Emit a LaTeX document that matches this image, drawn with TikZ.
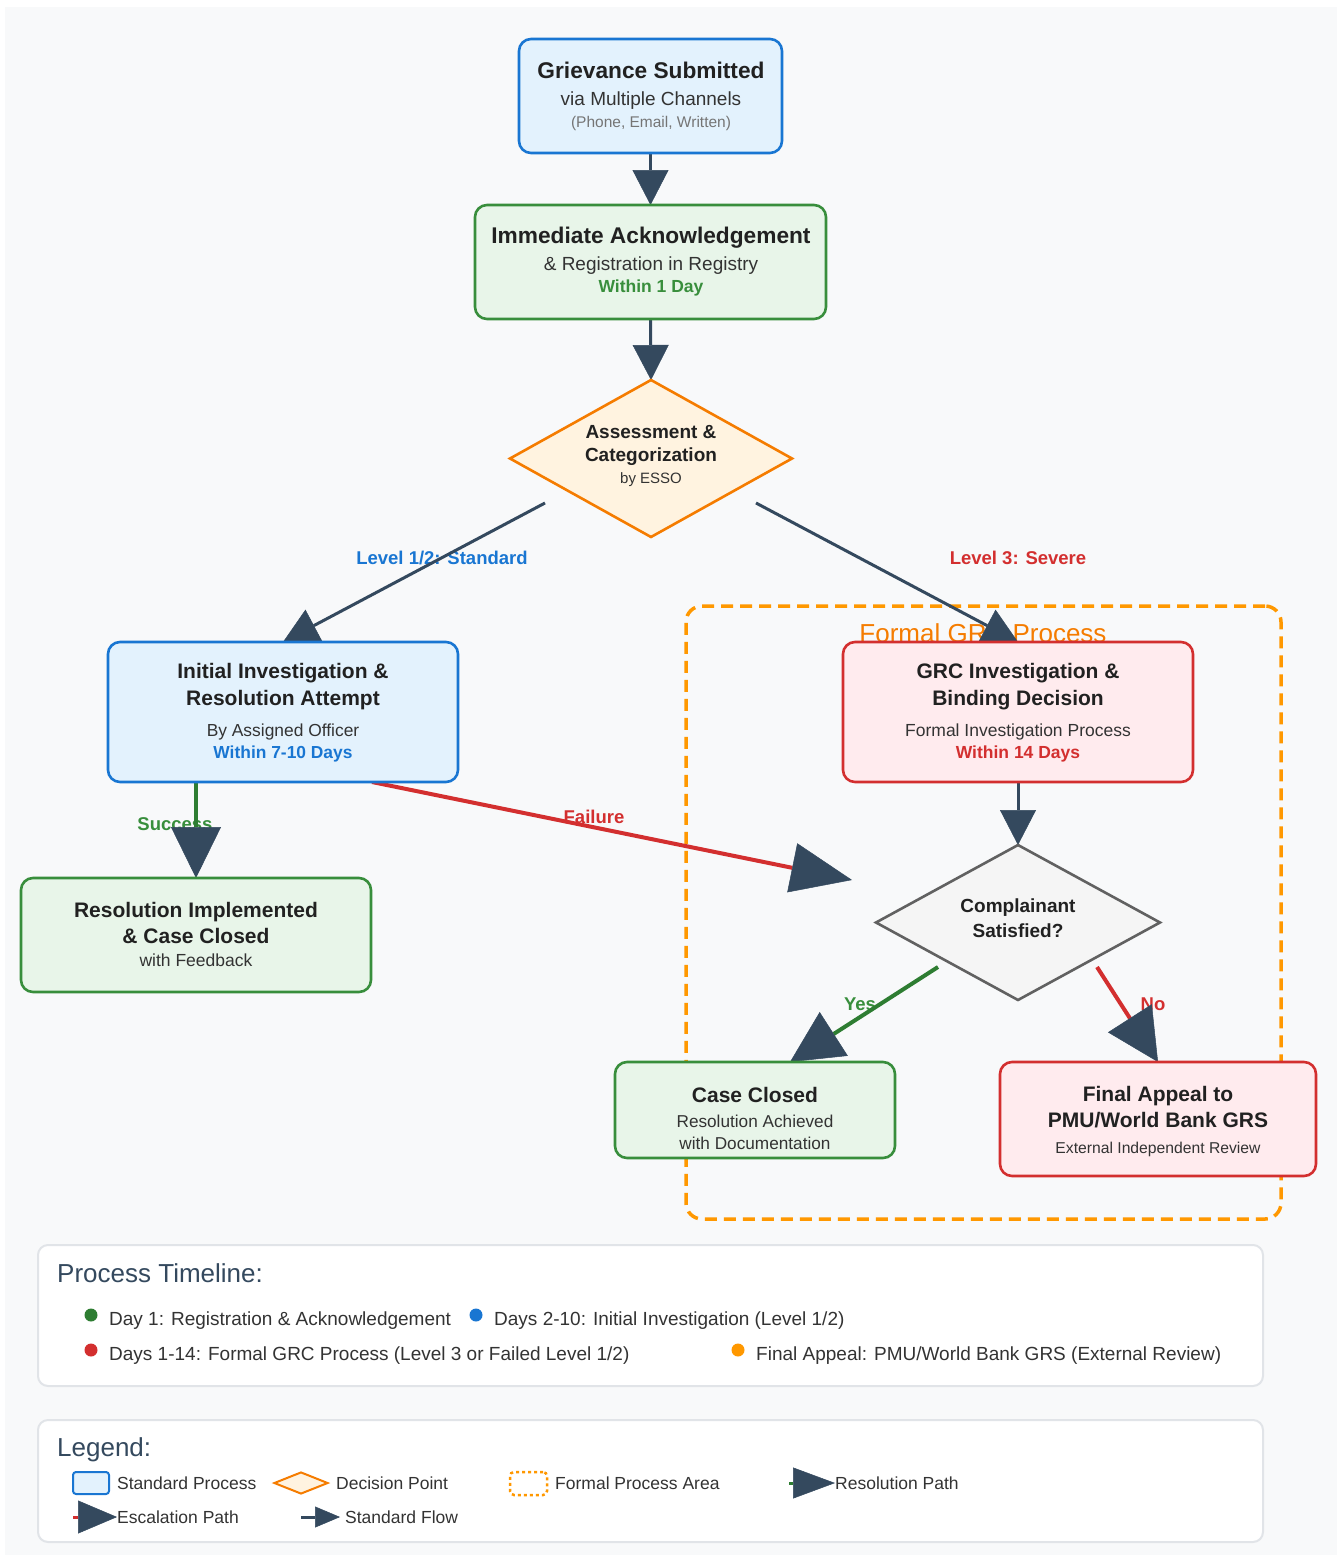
\documentclass[tikz,border=0pt]{standalone}
\usepackage{fontspec}
\setmainfont{Liberation Sans}
\usetikzlibrary{arrows.meta,shapes.geometric,calc}
\definecolor{ar}{HTML}{34495E}
\definecolor{cblue}{HTML}{1976D2}
\definecolor{cbluef}{HTML}{E3F2FD}
\definecolor{cgreen}{HTML}{388E3C}
\definecolor{cgreenf}{HTML}{E8F5E9}
\definecolor{corange}{HTML}{F57C00}
\definecolor{corangef}{HTML}{FFF3E0}
\definecolor{cred}{HTML}{D32F2F}
\definecolor{credf}{HTML}{FFEBEE}
\definecolor{cgray}{HTML}{616161}
\definecolor{cgrayf}{HTML}{F5F5F5}
\definecolor{carea}{HTML}{FF9800}
\definecolor{bgc}{HTML}{F8F9FA}
\definecolor{txa}{HTML}{212121}
\definecolor{txb}{HTML}{333333}
\definecolor{lgray}{HTML}{757575}
\definecolor{panelb}{HTML}{E1E4E8}
\definecolor{darkg}{HTML}{2E7D32}
\newcommand\fz[1]{\fontsize{#1}{#1}\selectfont}
\pgfdeclarelayer{back}
\pgfdeclarelayer{lbl}
\pgfdeclarelayer{conn}
\pgfsetlayers{back,lbl,conn,main}
\tikzset{
  boxbase/.style={rectangle, rounded corners=12pt, line width=2.6pt, inner sep=0pt, outer sep=0pt},
  bluebox/.style={boxbase, draw=cblue, fill=cbluef},
  greenbox/.style={boxbase, draw=cgreen, fill=cgreenf},
  redbox/.style={boxbase, draw=cred, fill=credf},
  decbox/.style={diamond, line width=2.6pt, inner sep=0pt, outer sep=0pt},
  tx/.style={anchor=base, inner sep=0pt, text=txa},
  txl/.style={anchor=base west, inner sep=0pt, text=txb},
  flow/.style={draw=ar, line width=3pt, -{Triangle[length=35pt,width=36pt,color=ar,line width=0.5pt]}},
  bigtip/.style 2 args={-{Triangle[length=#1,width=#2,color=ar,line width=0.5pt]}},
  panel/.style={rectangle, rounded corners=10pt, draw=panelb, line width=2pt, fill=white, inner sep=0pt},
  tdot/.style={circle, inner sep=0pt, minimum size=13pt}
}
\begin{document}
\begin{tikzpicture}[x=1pt,y=-1pt]
\useasboundingbox (0,0) rectangle (1342,1556);
\begin{pgfonlayer}{back}
\fill[white] (0,0) rectangle (1342,1556);
\fill[bgc] (5,7) rectangle (1337,1555);
\node[rectangle, rounded corners=16pt, draw=carea, line width=3.5pt, dash pattern=on 12pt off 7pt, minimum width=595pt, minimum height=613pt, inner sep=0pt] (formal) at (983.5,912.5) {};
\end{pgfonlayer}

% ---------- boxes ----------
\node[bluebox, minimum width=263pt, minimum height=114pt] (sub) at (650.5,96) {};
\node[tx, font=\fz{22.7}\bfseries] (suba) at (651,78) {Grievance Submitted};
\node[tx, font=\fz{19}, text=txb] (subb) at (651,105) {via Multiple Channels};
\node[tx, font=\fz{15.5}, text=lgray] (subc) at (651,127) {(Phone, Email, Written)};

\node[greenbox, minimum width=351pt, minimum height=114pt] (ack) at (650.5,262) {};
\node[tx, font=\fz{22.7}\bfseries] (acka) at (651,243) {Immediate Acknowledgement};
\node[tx, font=\fz{19}, text=txb] (ackb) at (651,270) {\& Registration in Registry};
\node[tx, font=\fz{17.5}\bfseries, text=cgreen] (ackc) at (651,292) {Within 1 Day};

\node[decbox, draw=corange, fill=corangef, minimum width=282pt, minimum height=157pt] (assess) at (651,458.5) {};
\node[tx, font=\fz{19}\bfseries] (asa) at (651,438) {Assessment \&};
\node[tx, font=\fz{19}\bfseries] (asb) at (651,461) {Categorization};
\node[tx, font=\fz{15}, text=txb] (asc) at (651,483) {by ESSO};

\node[bluebox, minimum width=350pt, minimum height=140pt] (init) at (283,712) {};
\node[tx, font=\fz{21}\bfseries] (ina) at (283,678) {Initial Investigation \&};
\node[tx, font=\fz{21}\bfseries] (inb) at (283,705) {Resolution Attempt};
\node[tx, font=\fz{17.4}, text=txb] (inc) at (283,736) {By Assigned Officer};
\node[tx, font=\fz{17.4}\bfseries, text=cblue] (ind) at (283,758) {Within 7-10 Days};

\node[redbox, minimum width=350pt, minimum height=140pt] (grc) at (1018,712) {};
\node[tx, font=\fz{21}\bfseries] (gra) at (1018,678) {GRC Investigation \&};
\node[tx, font=\fz{21}\bfseries] (grb) at (1018,705) {Binding Decision};
\node[tx, font=\fz{17.5}, text=txb] (grcc) at (1018,736) {Formal Investigation Process};
\node[tx, font=\fz{17.5}\bfseries, text=cred] (grd) at (1018,758) {Within 14 Days};

\node[greenbox, minimum width=350pt, minimum height=114pt] (resol) at (196,935) {};
\node[tx, font=\fz{21}\bfseries] (rea) at (196,917.5) {Resolution Implemented};
\node[tx, font=\fz{21}\bfseries] (reb) at (196,943.5) {\& Case Closed};
\node[tx, font=\fz{17.5}, text=txb] (rec) at (196,966) {with Feedback};

\node[decbox, draw=cgray, fill=cgrayf, minimum width=284pt, minimum height=155pt] (comp) at (1018,922.5) {};
\node[tx, font=\fz{19}\bfseries] (coa) at (1018,912) {Complainant};
\node[tx, font=\fz{19}\bfseries] (cob) at (1018,937) {Satisfied?};

\node[greenbox, minimum width=280pt, minimum height=96pt] (closed) at (755,1110) {};
\node[tx, font=\fz{21}\bfseries] (cla) at (755,1102) {Case Closed};
\node[tx, font=\fz{17.2}, text=txb] (clb) at (755,1127) {Resolution Achieved};
\node[tx, font=\fz{17.2}, text=txb] (clc) at (755,1149) {with Documentation};

\node[redbox, minimum width=316pt, minimum height=114pt] (appeal) at (1158,1119) {};
\node[tx, font=\fz{21}\bfseries] (apa) at (1158,1101.5) {Final Appeal to};
\node[tx, font=\fz{21}\bfseries] (apb) at (1158,1127.5) {PMU/World Bank GRS};
\node[tx, font=\fz{15.7}, text=txb] (apc) at (1158,1153.5) {External Independent Review};

% ---------- labels ----------
\begin{pgfonlayer}{lbl}
\node[tx, font=\fz{26}, text=corange] (formallbl) at (983,642) {Formal GRC Process};
\node[tx, font=\fz{18.5}\bfseries, text=cblue] (l12) at (442,564) {Level 1/2: Standard};
\node[tx, font=\fz{18.5}\bfseries, text=cred] (l3) at (1018,564) {Level 3: Severe};
\node[tx, font=\fz{18.5}\bfseries, text=cred] (lfail) at (594,823) {Failure};
\node[tx, font=\fz{18.5}\bfseries, text=cgreen] (lsucc) at (175,830) {Success};
\node[tx, font=\fz{18.5}\bfseries, text=cgreen] (lyes) at (860,1010) {Yes};
\node[tx, font=\fz{18.5}\bfseries, text=cred] (lno) at (1153,1010) {No};
\end{pgfonlayer}

% ---------- connectors ----------
\coordinate (a12) at (545,503);
\coordinate (a3) at (756,503);
\coordinate (sfrom) at ($(init.south)+(-87,0)$);
\coordinate (ffrom) at ($(init.south)+(89,0)$);
\coordinate (fto) at ($(comp.west)+(-24,-42.5)$);
\coordinate (yfrom) at (938,967);
\coordinate (yto) at ($(closed.north)+(35,0)$);
\coordinate (nfrom) at (1097,967);
\begin{pgfonlayer}{conn}
\draw[flow] (sub.south) -- (ack.north);
\draw[flow] (ack.south) -- (assess.north);
\draw[flow] (a12) -- (init.north);
\draw[flow] (a3) -- (grc.north);
\draw[flow] (grc.south) -- (comp.north);
\draw[draw=darkg, line width=4pt, bigtip={51pt}{50pt}] (sfrom) -- (resol.north);
\draw[draw=cred, line width=4pt, bigtip={61pt}{50pt}] (ffrom) -- (fto);
\draw[draw=darkg, line width=4pt, bigtip={52pt}{52pt}] (yfrom) -- (yto);
\draw[draw=cred, line width=4pt, bigtip={52pt}{52pt}] (nfrom) -- (appeal.north);
\end{pgfonlayer}

% ---------- timeline panel ----------
\node[panel, minimum width=1225pt, minimum height=141pt] (timeline) at (650.5,1315.5) {};
\node[txl, font=\fz{26}, text=ar] (tlt) at (57,1282) {Process Timeline:};
\node[tdot, fill=darkg] (d1) at (91,1315) {};
\node[txl, font=\fz{19}] (t1) at (109,1325) {Day 1: Registration \& Acknowledgement};
\node[tdot, fill=cblue] (d2) at (476,1315) {};
\node[txl, font=\fz{19}] (t2) at (494,1325) {Days 2-10: Initial Investigation (Level 1/2)};
\node[tdot, fill=cred] (d3) at (91,1350) {};
\node[txl, font=\fz{19}] (t3) at (109,1360) {Days 1-14: Formal GRC Process (Level 3 or Failed Level 1/2)};
\node[tdot, fill=carea] (d4) at (738,1350) {};
\node[txl, font=\fz{19}] (t4) at (756,1360) {Final Appeal: PMU/World Bank GRS (External Review)};

% ---------- legend panel ----------
\node[panel, minimum width=1225pt, minimum height=122pt] (legend) at (650.5,1481) {};
\node[txl, font=\fz{26}, text=ar] (lgt) at (57,1456) {Legend:};
\node[rectangle, rounded corners=3pt, draw=cblue, fill=cbluef, line width=2pt, minimum width=36pt, minimum height=22pt, inner sep=0pt] (lg1) at (91,1483) {};
\node[txl, font=\fz{17.5}] (lg1t) at (117,1489) {Standard Process};
\node[diamond, draw=corange, fill=corangef, line width=2pt, minimum width=54pt, minimum height=22pt, inner sep=0pt] (lg2) at (301,1483) {};
\node[txl, font=\fz{17.5}] (lg2t) at (336,1489) {Decision Point};
\node[rectangle, rounded corners=4pt, draw=carea, line width=2.5pt, dash pattern=on 3pt off 3pt, minimum width=37pt, minimum height=23pt, inner sep=0pt] (lg3) at (528.5,1483.5) {};
\node[txl, font=\fz{17.5}] (lg3t) at (555,1489) {Formal Process Area};
\coordinate (r1) at (789,1483);
\coordinate (r2) at (835,1483);
\draw[draw=darkg, line width=3pt, bigtip={42pt}{31pt}] (r1) -- (r2);
\node[txl, font=\fz{17.5}] (lg4t) at (835,1489) {Resolution Path};
\coordinate (e1) at (73,1517);
\coordinate (e2) at (117,1517);
\draw[draw=cred, line width=3pt, bigtip={39pt}{33pt}] (e1) -- (e2);
\node[txl, font=\fz{17.5}] (lg5t) at (117,1523) {Escalation Path};
\coordinate (s1) at (301,1517);
\coordinate (s2) at (340,1517);
\draw[draw=ar, line width=3pt, bigtip={25pt}{21pt}] (s1) -- (s2);
\node[txl, font=\fz{17.5}] (lg6t) at (345,1523) {Standard Flow};
\end{tikzpicture}
\end{document}
